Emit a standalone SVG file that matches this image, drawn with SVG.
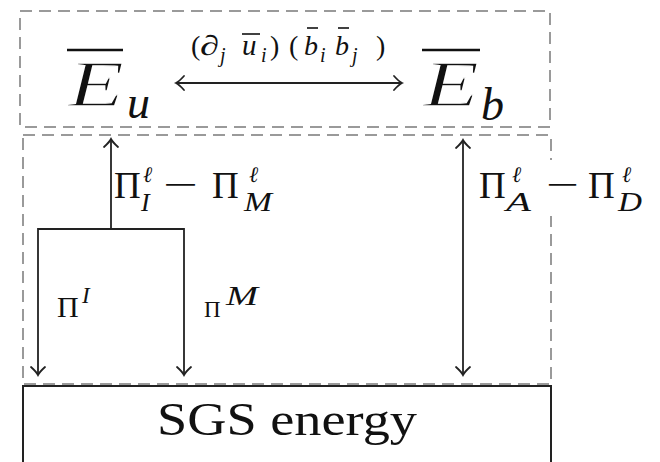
<svg xmlns="http://www.w3.org/2000/svg" width="660" height="462" viewBox="0 0 660 462">
<defs>
<marker id="head" markerUnits="userSpaceOnUse" markerWidth="20" markerHeight="20" viewBox="-10 -10 20 20" refX="0" refY="0" orient="auto-start-reverse">
<path d="M-8,-7 Q-3,-1.5 0,0 Q-3,1.5 -8,7" fill="none" stroke="#222" stroke-width="1.8" stroke-linecap="round"/>
</marker>
<style>
.dash{fill:none;stroke:#9a9a9a;stroke-width:2;stroke-dasharray:12 7}
.arr{fill:none;stroke:#222;stroke-width:1.8}
text{font-family:'Liberation Serif','Times New Roman',Times,serif;fill:#111}
.i{font-style:italic}
.thin{stroke:#fff;stroke-width:1.3}
.bar{stroke:#111;stroke-width:2.5}
.sbar{stroke:#111;stroke-width:1.6}
.bg{fill:#fff}
</style>
</defs>
<rect width="660" height="462" fill="#fff"/>

<g id="frames">
<rect class="dash" x="20" y="11" width="530" height="116"/>
<rect class="dash" x="23" y="135" width="528" height="249"/>
</g>

<g id="connectors">
<path class="arr" d="M176,83 L402,83" marker-start="url(#head)" marker-end="url(#head)"/>
<path class="arr" d="M111,229 L111,139" marker-end="url(#head)"/>
<path class="arr" d="M38,375 L38,229 L184,229 L184,375" marker-start="url(#head)" marker-end="url(#head)"/>
<path class="arr" d="M463,140 L463,375" marker-start="url(#head)" marker-end="url(#head)"/>
</g>

<g id="node-Eu">
<line class="bar" x1="67" y1="50" x2="123" y2="50"/>
<text class="i thin" x="68" y="106" font-size="66" textLength="56" lengthAdjust="spacingAndGlyphs">E</text>
<text class="i" x="127" y="118" font-size="46">u</text>
</g>

<g id="node-Eb">
<line class="bar" x1="422" y1="50" x2="480" y2="50"/>
<text class="i thin" x="423" y="106" font-size="66" textLength="56" lengthAdjust="spacingAndGlyphs">E</text>
<text class="i" x="481" y="120" font-size="46">b</text>
</g>

<g id="label-coupling">
<text x="191" y="55" font-size="28">(</text>
<text class="i" x="200" y="55" font-size="28" textLength="19" lengthAdjust="spacingAndGlyphs">∂</text>
<text class="i" x="220" y="62" font-size="20">j</text>
<line class="sbar" x1="242" y1="34" x2="260" y2="34"/>
<text class="i" x="242" y="55" font-size="29">u</text>
<text class="i" x="261" y="62" font-size="20">i</text>
<text x="270" y="55" font-size="28">)</text>
<text x="289" y="55" font-size="28">(</text>
<line class="sbar" x1="307" y1="28" x2="318" y2="28"/>
<text class="i" x="304" y="55" font-size="28">b</text>
<text class="i" x="320" y="62" font-size="20">i</text>
<line class="sbar" x1="338" y1="28" x2="349" y2="28"/>
<text class="i" x="335" y="55" font-size="28">b</text>
<text class="i" x="352" y="62" font-size="20">j</text>
<text x="376" y="55" font-size="28">)</text>
</g>

<g id="label-IM">
<rect class="bg" x="113" y="162" width="164" height="52"/>
<text x="114" y="198" font-size="37">Π</text>
<text class="i" x="143" y="182" font-size="22">ℓ</text>
<text class="i" x="141" y="211" font-size="26">I</text>
<text x="163" y="197" font-size="37" textLength="35" lengthAdjust="spacingAndGlyphs">−</text>
<text x="212" y="198" font-size="37">Π</text>
<text class="i" x="249" y="182" font-size="22">ℓ</text>
<text class="i" x="244" y="211" font-size="27" textLength="28" lengthAdjust="spacingAndGlyphs">M</text>
</g>

<g id="label-AD">
<rect class="bg" x="476" y="160" width="170" height="56"/>
<text x="479" y="198" font-size="37">Π</text>
<text class="i" x="512" y="182" font-size="22">ℓ</text>
<text class="i" x="506" y="211" font-size="28" textLength="25" lengthAdjust="spacingAndGlyphs">A</text>
<text x="546" y="197" font-size="37" textLength="33" lengthAdjust="spacingAndGlyphs">−</text>
<text x="588" y="198" font-size="37">Π</text>
<text class="i" x="622" y="182" font-size="22">ℓ</text>
<text class="i" x="618" y="211" font-size="28" textLength="24" lengthAdjust="spacingAndGlyphs">D</text>
</g>

<g id="label-PiI">
<text x="57" y="317" font-size="30">Π</text>
<text class="i" x="82" y="303" font-size="23">I</text>
</g>

<g id="label-PiM">
<text x="204" y="317" font-size="23">Π</text>
<text class="i" x="226" y="305" font-size="27" textLength="32" lengthAdjust="spacingAndGlyphs">M</text>
</g>

<g id="node-SGS">
<rect x="23" y="386" width="528" height="90" fill="#fff" stroke="#222" stroke-width="2"/>
<text x="157" y="435" font-size="46" textLength="260" lengthAdjust="spacingAndGlyphs">SGS energy</text>
</g>
</svg>
